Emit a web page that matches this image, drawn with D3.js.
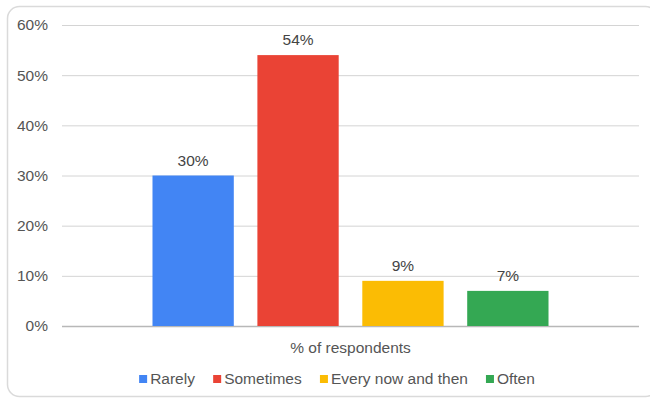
<!DOCTYPE html>
<html>
<head>
<meta charset="utf-8">
<script src="https://cdn.jsdelivr.net/npm/d3@7"></script>
<style>
  html, body { margin: 0; padding: 0; background: #fff; }
  svg { display: block; font-family: "Liberation Sans", Arial, sans-serif; }
</style>
</head>
<body>
<svg id="chart" width="650" height="398"></svg>
<script>
// Survey answers, one bar per frequency option
const categories = ["% of respondents"];
const seriesNames = ["Rarely", "Sometimes", "Every now and then", "Often"];
const seriesValues = [0.30, 0.54, 0.09, 0.07];
const seriesColors = ["#4285F4", "#EA4335", "#FBBC04", "#34A853"];
const yTicks = [0, 0.1, 0.2, 0.3, 0.4, 0.5, 0.6];

const svg = d3.select("#chart");
const W = 650, H = 398;
const margin = { left: 62, right: 11, top: 25, bottom: 72 };
const plotW = W - margin.left - margin.right;
const plotH = H - margin.top - margin.bottom;
const fontSize = 15.5;

// outer card
svg.append("rect")
  .attr("x", 7.5).attr("y", 6.5)
  .attr("width", 650).attr("height", 390)
  .attr("rx", 12).attr("ry", 12)
  .attr("fill", "#fff")
  .attr("stroke", "#dadada")
  .attr("stroke-width", 1.5);

const g = svg.append("g").attr("transform", `translate(${margin.left},${margin.top})`);

const y = d3.scaleLinear().domain([0, 0.6]).range([plotH, 0]);
const x0 = d3.scaleBand().domain(categories).range([0, plotW]).paddingInner(0).paddingOuter(0.2285);
const x1 = d3.scaleBand().domain(seriesNames).range([0, x0.bandwidth()]).paddingInner(0.225).paddingOuter(0);

// gridlines and tick labels
const yAxis = d3.axisLeft(y).tickValues(yTicks).tickFormat(d3.format(".0%")).tickSize(-plotW).tickPadding(14);
const ya = g.append("g").call(yAxis);
ya.select(".domain").remove();
ya.selectAll(".tick line").attr("stroke", "#d4d4d4").attr("stroke-width", 1);
ya.selectAll(".tick text")
  .attr("fill", "#555").attr("font-size", fontSize).attr("font-family", "'Liberation Sans', Arial, sans-serif");
ya.selectAll(".tick").filter(d => d === 0).select("line").attr("stroke", "#b8b8b8").attr("stroke-width", 1.3);

// bars
const grp = g.selectAll(".cat").data(categories).join("g")
  .attr("transform", d => `translate(${x0(d)},0)`);

const rows = seriesNames.map((n, i) => ({ name: n, value: seriesValues[i], color: seriesColors[i] }));

grp.selectAll("rect").data(rows).join("rect")
  .attr("x", d => x1(d.name))
  .attr("y", d => y(d.value))
  .attr("width", x1.bandwidth())
  .attr("height", d => y(0) - y(d.value))
  .attr("fill", d => d.color);

// value labels
grp.selectAll("text.val").data(rows).join("text")
  .attr("class", "val")
  .attr("x", d => x1(d.name) + x1.bandwidth() / 2)
  .attr("y", d => y(d.value) - 10)
  .attr("text-anchor", "middle")
  .attr("font-size", fontSize)
  .attr("fill", "#444")
  .text(d => d3.format(".0%")(d.value));

// category label
g.selectAll("text.cat-label").data(categories).join("text")
  .attr("class", "cat-label")
  .attr("x", d => x0(d) + x0.bandwidth() / 2)
  .attr("y", plotH + 27)
  .attr("text-anchor", "middle")
  .attr("font-size", fontSize)
  .attr("fill", "#555")
  .text(d => d);

// legend
const legend = svg.append("g").attr("transform", "translate(0,379)");
const items = legend.selectAll("g").data(rows).join("g");
items.append("rect").attr("width", 8).attr("height", 8).attr("y", -4).attr("fill", d => d.color);
items.append("text").attr("x", 11).attr("dy", "0.35em").attr("font-size", fontSize).attr("fill", "#555").text(d => d.name);
let widths = [];
items.each(function () { widths.push(this.getBBox().width); });
const gap = 18;
const total = d3.sum(widths) + gap * (widths.length - 1);
let cx = 337 - total / 2;
items.attr("transform", (d, i) => { const t = `translate(${cx},0)`; cx += widths[i] + gap; return t; });
</script>
</body>
</html>
